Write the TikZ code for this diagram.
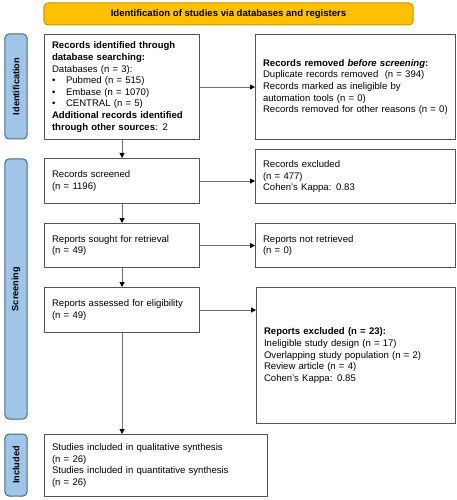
\documentclass[tikz,border=0pt]{standalone}
\usepackage{fontspec}
\setmainfont{Liberation Sans}
\usetikzlibrary{arrows.meta}
\definecolor{bannerfill}{HTML}{FFC000}
\definecolor{bannerline}{HTML}{C89600}
\definecolor{sidefill}{HTML}{9FC5E8}
\definecolor{sideline}{HTML}{4A6785}
\definecolor{boxline}{HTML}{555555}
\definecolor{arrowline}{HTML}{6E6E6E}
\newcommand\bul{\makebox[14bp][l]{\textbullet}}
\begin{document}
\begin{tikzpicture}[x=1bp,y=-1bp,
  box/.style={draw=boxline, line width=1.1bp, fill=white, anchor=north west, align=left,
    inner xsep=7.5bp, inner ysep=0pt, font=\fontsize{9.6}{11.7}\selectfont},
  sidebar/.style={draw=sideline, fill=sidefill, line width=1bp, rounded corners=4bp,
    rotate=90, minimum height=22bp, inner sep=0pt, font=\fontsize{9.2}{11}\selectfont\bfseries},
  banner/.style={draw=bannerline, fill=bannerfill, line width=1bp, rounded corners=4bp,
    minimum width=369bp, minimum height=22bp, inner sep=0pt, font=\fontsize{9.6}{11.7}\selectfont\bfseries},
  arr/.style={draw=arrowline, line width=0.8bp, -{Triangle[length=5bp,width=5bp,color=black]}}]
\useasboundingbox (0,0) rectangle (457,500);

\node[banner] (ban) at (228.5,14) {Identification of studies via databases and registers};

\node[sidebar, minimum width=105bp] (s1) at (16,86.5) {Identification};
\node[sidebar, minimum width=260bp] (s2) at (16,289) {Screening};
\node[sidebar, minimum width=62bp] (s3) at (16,465) {Included};

\node[box, text width=140bp, minimum height=105bp] (b1) at (44,34) {%
\textbf{Records identified through}\\
\textbf{database searching:}\\
Databases (n = 3):\\
\bul Pubmed (n = 515)\\
\bul Embase (n = 1070)\\
\bul CENTRAL (n = 5)\\
\textbf{Additional records identified}\\
\textbf{through other sources}: 2};

\node[box, text width=185bp, minimum height=105bp] (b2) at (255,34) {%
\textbf{Records removed \textit{before screening}:}\\
Duplicate records removed~ (n = 394)\\
Records marked as ineligible by\\
automation tools (n = 0)\\
Records removed for other reasons (n = 0)};

\node[box, text width=140bp, minimum height=45bp] (b3) at (44,158) {%
Records screened\\
(n = 1196)};

\node[box, text width=185bp, minimum height=54bp] (b4) at (255,149) {%
Records excluded\\
(n = 477)\\
Cohen's Kappa: 0.83};

\node[box, text width=140bp, minimum height=44bp] (b5) at (44,223) {%
Reports sought for retrieval\\
(n = 49)};

\node[box, text width=185bp, minimum height=44bp] (b6) at (255,223) {%
Reports not retrieved\\
(n = 0)};

\node[box, text width=140bp, minimum height=45bp] (b7) at (44,287) {%
Reports assessed for eligibility\\
(n = 49)};

\node[box, text width=184bp, minimum height=136bp] (b8) at (256,287) {%
\textbf{Reports excluded (n = 23):}\\
Ineligible study design (n = 17)\\
Overlapping study population (n = 2)\\
Review article (n = 4)\\
Cohen's Kappa: 0.85};

\node[box, text width=208bp, minimum height=62bp] (b9) at (44,434) {%
Studies included in qualitative synthesis\\
(n = 26)\\
Studies included in quantitative synthesis\\
(n = 26)};

\draw[arr] (b1.east) -- (b2.west);
\draw[arr] (b3.east) -- (b3.east -| b4.west);
\draw[arr] (b5.east) -- (b6.west);
\draw[arr] (b7.east) -- (b7.east -| b8.west);
\draw[arr] (b1.south) -- (b3.north);
\draw[arr] (b3.south) -- (b5.north);
\draw[arr] (b5.south) -- (b7.north);
\draw[arr] (b7.south) -- (b7.south |- b9.north);
\end{tikzpicture}
\end{document}
